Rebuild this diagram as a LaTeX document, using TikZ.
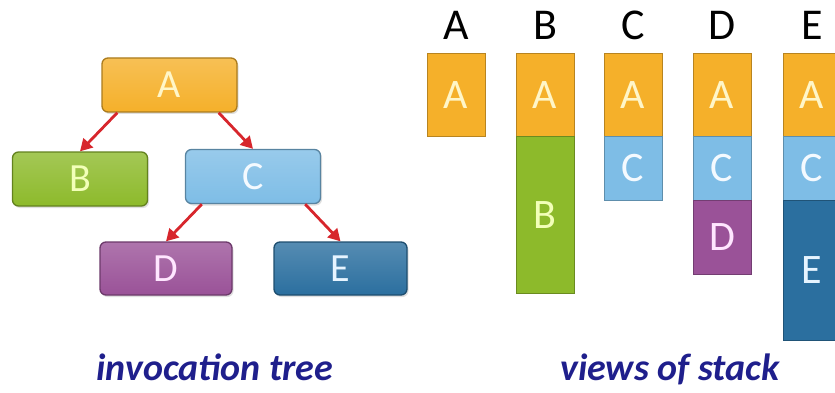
\documentclass[tikz,border=0pt]{standalone}
\usepackage{fontspec}
\setmainfont{Carlito}
\usetikzlibrary{arrows.meta,shadows}
\definecolor{cA}{HTML}{F5B02A}
\definecolor{cB}{HTML}{8DBA2B}
\definecolor{cC}{HTML}{7EBDE6}
\definecolor{cD}{HTML}{9A5298}
\definecolor{cE}{HTML}{2B6F9F}
\definecolor{tA}{HTML}{FFF6C8}
\definecolor{tB}{HTML}{F2FFB8}
\definecolor{tC}{HTML}{F4FAFF}
\definecolor{tD}{HTML}{FFE6FF}
\definecolor{tE}{HTML}{E6F4FF}
\definecolor{arrred}{HTML}{D7262C}
\definecolor{capblue}{HTML}{1F1F8C}
\tikzset{
  treebox/.style={rounded corners=6pt, minimum width=135pt, minimum height=54pt,
    inner sep=0pt, line width=1.3pt, font=\fontsize{40}{40}\selectfont,
    drop shadow={opacity=0.25, shadow xshift=1.5pt, shadow yshift=-2pt}},
  seg/.style={minimum width=58pt, inner sep=0pt, line width=0.8pt,
    font=\fontsize{42}{42}\selectfont, anchor=north},
  hdr/.style={font=\fontsize{44}{44}\selectfont, anchor=base, inner sep=0pt},
  arr/.style={draw=arrred, line width=2.8pt, -{Triangle[length=12pt,width=13pt]}},
  captext/.style={font=\fontsize{38}{38}\selectfont\bfseries\itshape, text=capblue, anchor=base, inner sep=0pt}
}
\begin{document}
\begin{tikzpicture}[x=1pt,y=-1pt]
\useasboundingbox (0,0) rectangle (835,393);
% tree
\node[treebox, draw=cA!70!black, top color=cA!80!white, bottom color=cA, text=tA] (A) at (169.5,85) {A};
\node[treebox, draw=cB!70!black, top color=cB!80!white, bottom color=cB, text=tB] (B) at (80,179) {B};
\node[treebox, draw=cC!70!black, top color=cC!80!white, bottom color=cC, text=tC] (C) at (253,176.5) {C};
\node[treebox, draw=cD!70!black, top color=cD!80!white, bottom color=cD, text=tD, minimum width=132pt, minimum height=53pt] (D) at (166,268.5) {D};
\node[treebox, draw=cE!70!black, top color=cE!80!white, bottom color=cE, text=tE, minimum width=133pt, minimum height=53pt] (E) at (340.5,268.5) {E};
\draw[arr] ([xshift=16pt]A.south west) -- (B.north);
\draw[arr] ([xshift=-19pt]A.south east) -- (C.north);
\draw[arr] ([xshift=17pt]C.south west) -- (D.north);
\draw[arr] ([xshift=-16pt]C.south east) -- (E.north);
% headers
\node[hdr] (hA) at (456,40) {A};
\node[hdr] (hB) at (545,40) {B};
\node[hdr] (hC) at (633,40) {C};
\node[hdr] (hD) at (722,40) {D};
\node[hdr] (hE) at (812,40) {E};
% stacks
\node[seg, fill=cA, draw=cA!75!black, text=tA, minimum height=83pt] (sA1) at (456,53) {A};
\node[seg, fill=cA, draw=cA!75!black, text=tA, minimum height=83pt] (sB1) at (545,53) {A};
\node[seg, fill=cB, draw=cB!75!black, text=tB, minimum height=157pt] (sB2) at (545,136) {B};
\node[seg, fill=cA, draw=cA!75!black, text=tA, minimum height=83pt] (sC1) at (633,53) {A};
\node[seg, fill=cC, draw=cC!75!black, text=tC, minimum height=64pt] (sC2) at (633,136) {C};
\node[seg, fill=cA, draw=cA!75!black, text=tA, minimum height=83pt] (sD1) at (722,53) {A};
\node[seg, fill=cC, draw=cC!75!black, text=tC, minimum height=64pt] (sD2) at (722,136) {C};
\node[seg, fill=cD, draw=cD!75!black, text=tD, minimum height=74pt] (sD3) at (722,200) {D};
\node[seg, fill=cA, draw=cA!75!black, text=tA, minimum height=83pt] (sE1) at (812,53) {A};
\node[seg, fill=cC, draw=cC!75!black, text=tC, minimum height=64pt] (sE2) at (812,136) {C};
\node[seg, fill=cE, draw=cE!75!black, text=tE, minimum height=140pt] (sE3) at (812,200) {E};
% captions
\node[captext] (c1) at (215,380) {invocation tree};
\node[captext] (c2) at (670,380) {views of stack};
\end{tikzpicture}
\end{document}
